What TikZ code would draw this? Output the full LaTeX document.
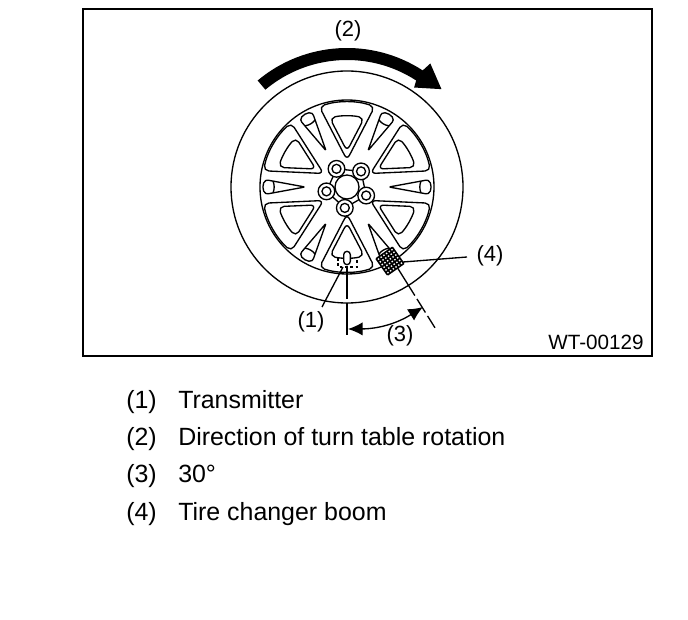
\documentclass[tikz,border=0pt]{standalone}
\usepackage{fontspec}
\setmainfont{Liberation Sans}
\usetikzlibrary{arrows.meta,calc}
\tikzset{
    every node/.style={font=\fontsize{16.5}{20}\selectfont,inner sep=0pt},
    frameline/.style={draw,line width=1.5pt},
    wheelline/.style={draw,line width=1pt},
    leader/.style={draw,line width=1pt},
    centerline/.style={draw,line width=1pt,dash pattern=on 24pt off 3pt},
    dimarrow/.style={draw,line width=1pt,{Latex[length=11pt,width=10pt]}-{Latex[length=11pt,width=10pt]}},
    boltring/.style={wheelline,fill=white,circle,minimum size=12.5pt},
    legend/.style={anchor=base west,font=\fontsize{18.7}{22}\selectfont}
}
\begin{document}
\begin{tikzpicture}[x=0.75pt,y=0.75pt]
\useasboundingbox (-347,187) rectangle (341,-433);
\draw[frameline] (-264,178) rectangle (305,-169);

% wheel
\draw[wheelline] (0,0) circle (116);
\draw[wheelline] (0,0) circle (87);
\foreach \a in {0,60,...,300}{
    \begin{scope}[rotate=\a]
        \draw[wheelline,rounded corners=4pt] (109:85) arc[start angle=109,end angle=71,radius=85] -- (0,27) -- cycle;
        \draw[wheelline,rounded corners=4pt] (104:71) arc[start angle=104,end angle=76,radius=71] -- (0,36) -- cycle;
        \draw[wheelline,rounded corners=1pt] (42,0) -- (80,7) .. controls (85,5) and (85,-5) .. (80,-7) -- cycle;
        \draw[wheelline] (74,6) to[bend right=20] (74,-6);
    \end{scope}
}

% hub
\draw[wheelline] (48:21) -- (120:21) -- (192:21) -- (264:21) -- (336:21) -- cycle;
\draw[wheelline,fill=white] (0,0) circle (12);
\foreach \a in {48,120,192,264,336}{
    \node[boltring] (bolt\a) at (\a:21) {};
    \draw[wheelline] (\a:21) circle (4.5);
}

% transmitter
\node[wheelline,fill=white,rounded corners=2.5pt,minimum width=5pt,minimum height=10pt] (transmitter) at (0,-71) {};
\draw[wheelline,dash pattern=on 2pt off 2pt] (-9,-71) -- (-9,-80) -- (10,-80) -- (10,-71);

% boom
\begin{scope}[shift={(43,-74)},rotate=35]
    \fill[white] (-10,-10) rectangle (10,10);
    \foreach \p in {-10,-6.7,...,10.1}{
        \draw[line width=1.2pt] (\p,-10) -- (\p,10);
        \draw[line width=1.2pt] (-10,\p) -- (10,\p);
    }
\end{scope}

% rotation arrow
\fill (130:127) arc[start angle=130,end angle=57,radius=127] -- (56:120) -- (46:136) -- (56:149) -- (57:139) arc[start angle=57,end angle=130,radius=139] -- cycle;

% leaders and dimension
\coordinate (oneA) at (-25,-120);
\coordinate (oneB) at (-4,-80);
\coordinate (fourA) at (120,-70);
\coordinate (fourB) at (56,-75);
\coordinate (vertA) at (0,-80);
\coordinate (vertB) at (0,-151);
\coordinate (slantA) at (-58:96);
\coordinate (slantB) at (-58:166);
\coordinate (dimL) at (1,-142);
\coordinate (dimR) at (76,-120);
\draw[leader] (oneA) -- (oneB);
\draw[leader] (fourB) -- (fourA);
\draw[centerline] (vertA) -- (vertB);
\draw[centerline,dash pattern=on 24pt off 3pt on 12pt off 3pt] (slantA) -- (slantB);
\draw[dimarrow] (dimL) to[bend right=16] (dimR);

% labels
\node (lab2) at (1,156) {(2)};
\node (lab1) at (-36,-135) {(1)};
\node (lab3) at (53,-149) {(3)};
\node (lab4) at (143,-69) {(4)};
\node[font=\fontsize{15.5}{18}\selectfont] (code) at (249,-155) {WT-00129};

% legend
\foreach \y/\n/\t in {-221/1/Transmitter,-258/2/Direction of turn table rotation,-295/3/30°,-333/4/Tire changer boom}{
    \node[legend] (num\n) at (-221,\y) {(\n)};
    \node[legend] (txt\n) at (-169,\y) {\t};
}
\end{tikzpicture}
\end{document}
